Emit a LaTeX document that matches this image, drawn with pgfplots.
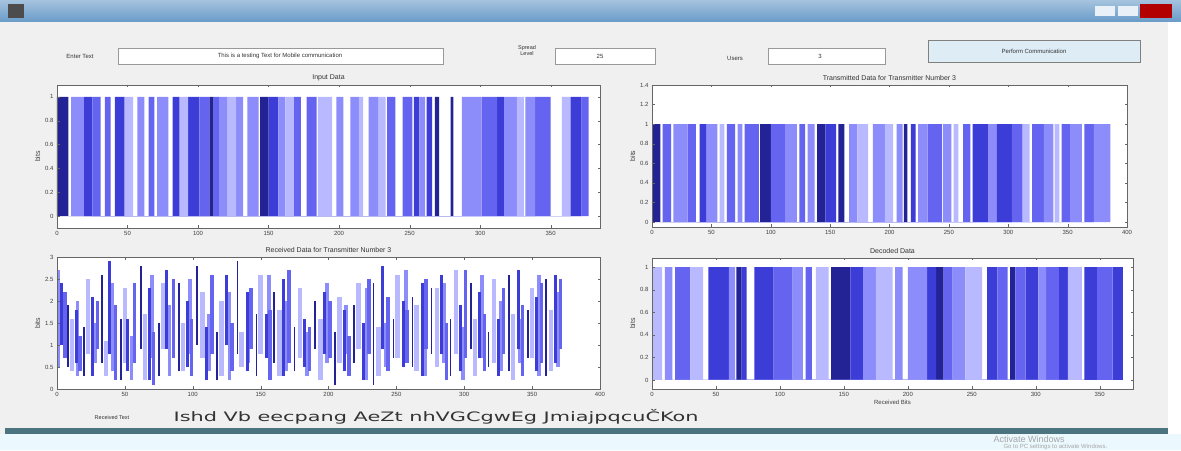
\documentclass[border=0pt]{standalone}
\usepackage{fontspec}
\setmainfont{Liberation Sans}
\newfontfamily\wide{DejaVu Sans}
\usepackage{pgfplots}
\pgfplotsset{compat=1.18}
\definecolor{c1}{RGB}{35,35,150}
\definecolor{c2}{RGB}{60,60,215}
\definecolor{c3}{RGB}{100,100,240}
\definecolor{c4}{RGB}{140,140,250}
\definecolor{c5}{RGB}{185,185,255}
\definecolor{guibg}{RGB}{240,240,240}
\definecolor{titlebar}{RGB}{105,155,200}
\definecolor{btn}{RGB}{222,236,246}
\definecolor{teal}{RGB}{75,115,128}
\pgfplotsset{
  gui/.style={
    scale only axis, anchor=south west,
    axis background/.style={fill=white},
    axis line style={black!60}, tick style={black!60},
    tick align=inside, major tick length=2.5pt,
    tick label style={font=\fontsize{6}{7}\selectfont, text=black!75},
    /pgf/number format/assume math mode=true,
    /pgf/number format/fixed,
    title style={font=\fontsize{7}{8}\selectfont, text=black!80, yshift=-5pt},
    ylabel style={font=\fontsize{7}{8}\selectfont, text=black!75, yshift=-2pt},
    ylabel={bits}, axis on top,
  },
  bars/.style={const plot, fill=#1, draw=none},
  seg/.style 2 args={#1, no marks, draw=none,
    error bars/.cd, y dir=plus, y explicit, error mark=none,
    error bar style={line width=#2, draw=#1}},
}
\begin{document}
\begin{tikzpicture}[x=1pt,y=1pt]
% window
\fill[guibg] (0,0) rectangle (1181,450);
\path[use as bounding box] (0,0) rectangle (1181,450);
\shade[top color=titlebar!60!white, bottom color=titlebar] (0,428) rectangle (1181,450);
\fill[black!70] (8,432) rectangle (24,446);
\fill[white!85!titlebar] (1095,434) rectangle (1115,444);
\fill[white!85!titlebar] (1118,434) rectangle (1138,444);
\fill[red!70!black] (1140,432) rectangle (1172,446);
\fill[white] (1168,0) rectangle (1181,428);
\fill[teal] (5,16) rectangle (1168,22);
\fill[cyan!8] (0,0) rectangle (1181,16);
% top controls
\node[font=\fontsize{6}{7}\selectfont, text=black!80] at (80,394) {Enter Text};
\draw[black!40, fill=white] (118,386) rectangle (443,402);
\node[font=\fontsize{6}{7}\selectfont, text=black!80] at (280,394) {This is a testing Text for Mobile communication};
\node[font=\fontsize{5.5}{6}\selectfont, text=black!80, align=center] at (527,399) {Spread\\Level};
\draw[black!40, fill=white] (555,386) rectangle (655,402);
\node[font=\fontsize{6}{7}\selectfont, text=black!80] at (600,394) {25};
\node[font=\fontsize{6}{7}\selectfont, text=black!80] at (735,392) {Users};
\draw[black!40, fill=white] (768,386) rectangle (885,402);
\node[font=\fontsize{6}{7}\selectfont, text=black!80] at (820,394) {3};
\draw[black!50, fill=btn] (928,388) rectangle (1140,410);
\node[font=\fontsize{6}{7}\selectfont, text=black!80] at (1034,399) {Perform Communication};
% bottom text
\node[font=\fontsize{5.5}{6}\selectfont, text=black!80] at (112,32) {Received Text};
\node[font=\wide\fontsize{13}{14}\selectfont, text=black!80, anchor=west, xscale=1.6, transform shape] at (168,33) {Ishd Vb eecpang AeZt nhVGCgwEg JmiajpqcuČKon};
\node[font=\fontsize{9}{10}\selectfont, text=black!35, anchor=west] at (990,11) {Activate Windows};
\node[font=\fontsize{6}{7}\selectfont, text=black!35, anchor=west] at (1000,3) {Go to PC settings to activate Windows.};

% ---------------- Input Data
\begin{axis}[gui, at={(57pt,222pt)}, width=543pt, height=143pt,
  xmin=0, xmax=385, ymin=-0.1, ymax=1.1,
  xtick={0,50,...,350}, ytick={0,0.2,...,1},
  title={Input Data}]
\addplot[bars=c1] coordinates {(0,1)(8,0)(108,1)(111,0)(144,1)(150,0)(268,1)(271,0)(279,1)(281,0)} \closedcycle;
\addplot[bars=c2] coordinates {(19,1)(25,0)(41,1)(48,0)(82,1)(87,0)(93,1)(101,0)(150,1)(157,0)(253,1)(257,0)(262,1)(266,0)(312,1)(317,0)(364,1)(372,0)} \closedcycle;
\addplot[bars=c3] coordinates {(25,1)(31,0)(34,1)(38,0)(65,1)(69,0)(101,1)(108,0)(111,1)(115,0)(168,1)(173,0)(177,1)(184,0)(234,1)(240,0)(245,1)(252,0)(301,1)(312,0)(339,1)(350,0)(372,1)(377,0)} \closedcycle;
\addplot[bars=c4] coordinates {(10,1)(19,0)(57,1)(62,0)(71,1)(79,0)(115,1)(121,0)(127,1)(132,0)(135,1)(143,0)(157,1)(162,0)(198,1)(203,0)(208,1)(214,0)(221,1)(228,0)(257,1)(261,0)(287,1)(301,0)(317,1)(326,0)(332,1)(339,0)} \closedcycle;
\addplot[bars=c5] coordinates {(48,1)(54,0)(87,1)(93,0)(121,1)(127,0)(162,1)(168,0)(185,1)(195,0)(214,1)(217,0)(228,1)(233,0)(326,1)(331,0)(358,1)(364,0)} \closedcycle;
\end{axis}

% ---------------- Transmitted Data
\begin{axis}[gui, at={(652pt,223pt)}, width=475pt, height=142pt,
  xmin=0, xmax=400, ymin=-0.05, ymax=1.4,
  xtick={0,50,...,400}, ytick={0,0.2,...,1.4},
  title={Transmitted Data for Transmitter Number 3}]
\addplot[bars=c1] coordinates {(0,1)(7,0)(91,1)(100,0)(139,1)(146,0)(157,1)(162,0)(212,1)(215,0)} \closedcycle;
\addplot[bars=c2] coordinates {(40,1)(46,0)(146,1)(155,0)(218,1)(222,0)(270,1)(283,0)(290,1)(303,0)} \closedcycle;
\addplot[bars=c3] coordinates {(9,1)(16,0)(30,1)(37,0)(63,1)(70,0)(78,1)(90,0)(100,1)(112,0)(124,1)(129,0)(232,1)(244,0)(262,1)(268,0)(303,1)(312,0)(320,1)(330,0)(345,1)(352,0)(364,1)(372,0)} \closedcycle;
\addplot[bars=c4] coordinates {(18,1)(30,0)(46,1)(55,0)(72,1)(76,0)(112,1)(122,0)(131,1)(137,0)(166,1)(173,0)(186,1)(196,0)(206,1)(211,0)(224,1)(232,0)(245,1)(252,0)(283,1)(290,0)(330,1)(338,0)(352,1)(362,0)(372,1)(386,0)} \closedcycle;
\addplot[bars=c5] coordinates {(57,1)(61,0)(173,1)(182,0)(196,1)(203,0)(254,1)(258,0)(312,1)(318,0)(339,1)(343,0)} \closedcycle;
\end{axis}

% ---------------- Received Data
\begin{axis}[gui, at={(57pt,61pt)}, width=543pt, height=132pt,
  xmin=0, xmax=400, ymin=0, ymax=3,
  xtick={0,50,...,400}, ytick={0,0.5,...,3},
  title={Received Data for Transmitter Number 3}]
\addplot[seg={c5}{4.5pt}] table[x=x, y=lo, y error plus expr=\thisrow{hi}-\thisrow{lo}, row sep=\\] {
x lo hi\\ 11 0.4 1.6\\ 23 0.8 2.5\\ 36 0.3 1.1\\ 50 0.6 2.3\\ 65 0.2 1.7\\ 78 0.9 2.4\\ 93 0.4 1.5\\ 107 0.7 2.2\\ 121 0.3 2.0\\ 136 0.5 1.3\\ 150 0.8 2.6\\ 164 0.3 1.8\\ 179 0.7 2.3\\ 194 0.2 1.6\\ 208 0.6 2.1\\ 222 0.9 2.4\\ 237 0.3 1.4\\ 251 0.7 2.6\\ 265 0.4 1.9\\ 280 0.5 2.3\\ 294 0.8 2.7\\ 308 0.3 1.6\\ 322 0.6 2.5\\ 336 0.2 1.7\\ 350 0.7 2.3\\ 364 0.4 1.8\\
};
\addplot[seg={c4}{3.5pt}] table[x=x, y=lo, y error plus expr=\thisrow{hi}-\thisrow{lo}, row sep=\\] {
x lo hi\\ 1 0.5 2.7\\ 15 0.3 2.0\\ 28 0.6 1.5\\ 41 0.4 2.4\\ 55 0.2 1.2\\ 70 0.7 2.6\\ 83 0.3 1.9\\ 98 0.8 2.5\\ 112 0.4 1.7\\ 127 0.2 2.2\\ 141 0.6 1.5\\ 156 0.9 2.6\\ 169 0.4 2.0\\ 184 0.3 1.3\\ 199 0.6 2.4\\ 213 0.8 1.9\\ 228 0.2 2.3\\ 242 0.5 1.5\\ 257 0.9 2.7\\ 271 0.3 1.8\\ 285 0.6 2.4\\ 299 0.2 1.4\\ 313 0.7 2.6\\ 327 0.4 2.0\\ 341 0.6 1.6\\ 355 0.3 2.6\\ 369 0.5 2.2\\
};
\addplot[seg={c3}{3.5pt}] table[x=x, y=lo, y error plus expr=\thisrow{hi}-\thisrow{lo}, row sep=\\] {
x lo hi\\ 6 0.7 2.2\\ 17 0.4 1.2\\ 30 0.9 2.0\\ 43 0.2 1.9\\ 57 0.6 2.4\\ 71 0.1 1.3\\ 86 0.7 2.5\\ 99 0.3 1.6\\ 114 0.8 2.6\\ 129 0.4 1.5\\ 143 0.9 2.3\\ 157 0.2 1.8\\ 171 0.6 2.7\\ 186 0.4 1.4\\ 201 0.7 2.0\\ 215 0.3 1.2\\ 230 0.8 2.5\\ 244 0.4 2.1\\ 258 0.6 1.8\\ 272 0.9 2.5\\ 287 0.2 1.5\\ 301 0.7 2.7\\ 315 0.4 1.7\\ 329 0.8 2.3\\ 343 0.3 1.9\\ 357 0.6 2.4\\ 371 0.9 2.5\\
};
\addplot[seg={c2}{3pt}] table[x=x, y=lo, y error plus expr=\thisrow{hi}-\thisrow{lo}, row sep=\\] {
x lo hi\\ 3 1.0 2.4\\ 14 0.6 1.8\\ 26 0.3 2.1\\ 39 0.8 2.9\\ 52 0.4 1.6\\ 68 0.2 2.3\\ 81 0.9 2.7\\ 96 0.5 2.0\\ 110 0.2 1.4\\ 125 1.0 2.6\\ 140 0.4 2.2\\ 154 0.7 1.7\\ 167 0.3 2.5\\ 182 0.5 1.6\\ 197 0.8 2.2\\ 212 0.4 1.8\\ 226 0.2 1.5\\ 240 0.9 2.8\\ 255 0.5 2.0\\ 269 0.3 2.4\\ 283 0.8 2.6\\ 297 0.4 1.9\\ 311 0.7 2.2\\ 325 0.3 1.6\\ 340 0.9 2.7\\ 353 0.4 2.1\\ 367 0.6 2.6\\
};
\addplot[seg={c1}{1.6pt}] table[x=x, y=lo, y error plus expr=\thisrow{hi}-\thisrow{lo}, row sep=\\] {
x lo hi\\ 8 0.5 1.9\\ 20 0.3 1.4\\ 33 0.6 2.6\\ 47 0.2 1.6\\ 62 0.9 2.8\\ 75 0.3 1.5\\ 90 0.4 2.4\\ 103 1.0 2.8\\ 118 0.2 1.3\\ 133 0.8 2.9\\ 147 0.3 1.7\\ 160 0.6 2.2\\ 175 0.4 1.4\\ 190 0.9 2.0\\ 205 0.1 1.3\\ 219 0.6 1.9\\ 233 0.1 2.4\\ 248 0.7 1.6\\ 262 0.5 2.1\\ 276 0.8 2.3\\ 290 0.3 1.6\\ 305 0.9 2.4\\ 318 0.5 1.3\\ 333 0.4 2.6\\ 347 0.7 1.8\\ 360 0.3 2.5\\
};
\end{axis}

% ---------------- Decoded Data
\begin{axis}[gui, at={(652pt,61pt)}, width=481pt, height=131pt,
  xmin=0, xmax=376, ymin=-0.08, ymax=1.08,
  xtick={0,50,...,350}, ytick={0,0.2,...,1},
  title={Decoded Data},
  xlabel={Received Bits}, xlabel style={font=\fontsize{6}{7}\selectfont, text=black!75, yshift=3pt}]
\addplot[bars=c1] coordinates {(66,1)(70,0)(140,1)(155,0)(222,1)(228,0)(280,1)(284,0)} \closedcycle;
\addplot[bars=c2] coordinates {(44,1)(60,0)(70,1)(74,0)(80,1)(95,0)(155,1)(165,0)(215,1)(222,0)(262,1)(270,0)(292,1)(302,0)(318,1)(325,0)(338,1)(348,0)(360,1)(368,0)} \closedcycle;
\addplot[bars=c3] coordinates {(18,1)(30,0)(95,1)(110,0)(120,1)(125,0)(228,1)(235,0)(270,1)(278,0)(284,1)(292,0)(308,1)(318,0)(348,1)(360,0)} \closedcycle;
\addplot[bars=c4] coordinates {(10,1)(16,0)(60,1)(65,0)(110,1)(118,0)(165,1)(175,0)(190,1)(196,0)(200,1)(215,0)(235,1)(245,0)(302,1)(308,0)} \closedcycle;
\addplot[bars=c5] coordinates {(0,1)(8,0)(30,1)(40,0)(128,1)(138,0)(175,1)(188,0)(245,1)(258,0)(325,1)(336,0)} \closedcycle;
\end{axis}
\end{tikzpicture}
\end{document}
